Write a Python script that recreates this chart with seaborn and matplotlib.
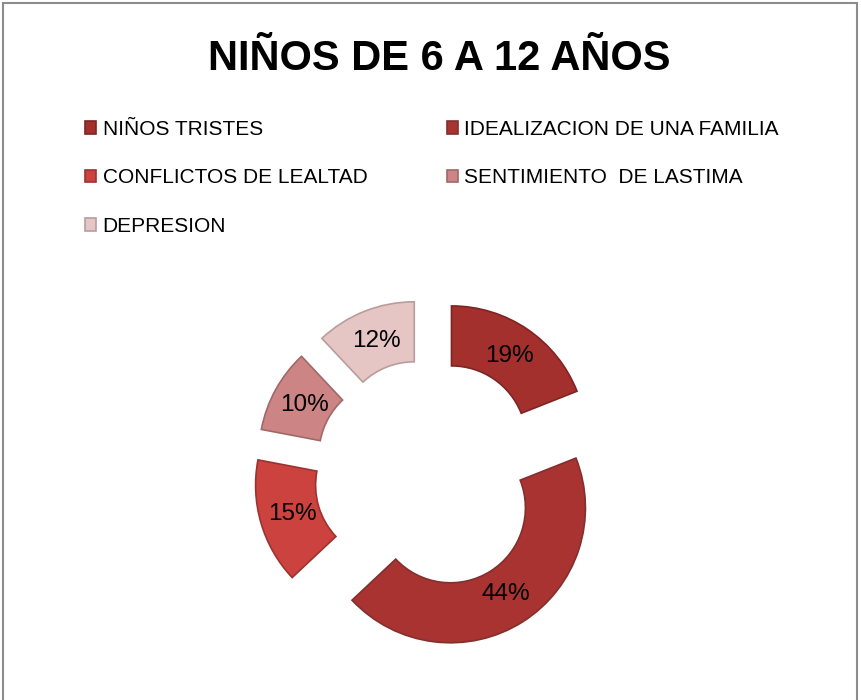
import matplotlib
matplotlib.use("Agg")
import matplotlib.pyplot as plt
import seaborn as sns
from matplotlib.patches import Rectangle

# ------------------ Data ------------------
categories = ["NIÑOS TRISTES", "IDEALIZACION DE UNA FAMILIA", "CONFLICTOS DE LEALTAD",
              "SENTIMIENTO  DE LASTIMA", "DEPRESION"]
values = [19, 44, 15, 10, 12]
colors = ["#A3302D", "#A83331", "#CC423E", "#CC8584", "#E6C6C5"]
edges = ["#7E2523", "#82302E", "#9C3330", "#A06968", "#B89D9C"]

sns.set_theme(style="white")
plt.rcParams["font.family"] = ["Liberation Sans", "DejaVu Sans"]

fig = plt.figure(figsize=(8.62, 7.0), dpi=100)
ax = fig.add_axes([0, 0, 1, 1])

# pie drawn in pixel-like data units
wedges, texts, autotexts = ax.pie(
    values, colors=colors, startangle=90, counterclock=False,
    center=(429, 226), radius=135, explode=[40] * len(values),
    autopct="%1.0f%%", pctdistance=0.76,
    wedgeprops=dict(width=60, linewidth=1.2),
    textprops=dict(fontsize=17.5, color="black"))
for w, ec in zip(wedges, edges):
    w.set_edgecolor(ec)

ax.set_xlim(0, 862)
ax.set_ylim(0, 700)
ax.set_aspect("equal")
ax.axis("off")

# title
fig.text(0.509, 0.915, "NIÑOS DE 6 A 12 AÑOS", ha="center", va="center",
         fontsize=30, fontweight="bold", color="black")

# legend laid out row by row
order = [0, 2, 4, 1, 3]
leg = fig.legend([wedges[i] for i in order], [categories[i] for i in order],
                 ncol=2, loc="upper left", bbox_to_anchor=(0.0986, 0.829),
                 frameon=False, fontsize=15, handlelength=0.55, handleheight=0.55,
                 handletextpad=0.3, labelspacing=1.42, columnspacing=3.8,
                 borderpad=0, borderaxespad=0)
for t in leg.get_texts():
    t.set_color("black")

# outer frame of the chart
fig.patches.append(Rectangle((3 / 862, -0.05), 854 / 862, 1.05 - 3 / 700,
                             transform=fig.transFigure, fill=False,
                             edgecolor="#8C8C8C", linewidth=1.5))

fig.savefig("out.png", dpi=100)
